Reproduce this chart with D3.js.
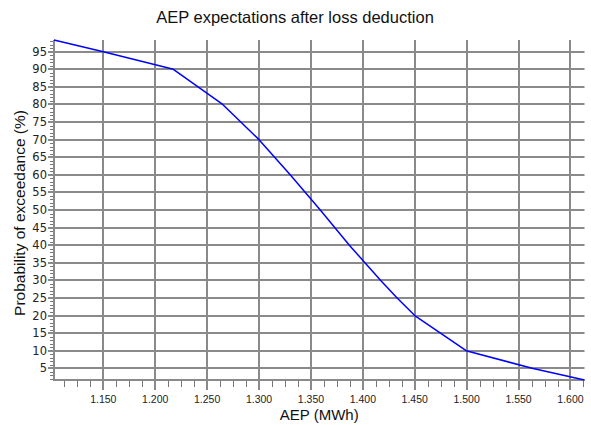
<!DOCTYPE html>
<html><head><meta charset="utf-8">
<script src="https://cdn.jsdelivr.net/npm/d3@7"></script>
<style>body{margin:0;background:#fff}svg{display:block}</style>
</head><body><svg id="c" width="591" height="425"></svg>
<script>
// Data
const aep  = [1.1025, 1.150, 1.2175, 1.265, 1.300, 1.330, 1.359, 1.387, 1.417, 1.433, 1.450, 1.4995, 1.563, 1.6135];
const prob = [98.33, 95, 90, 80, 70, 60, 50, 40, 30, 25, 20, 10, 5, 1.67];
const xTicks = [1.15, 1.2, 1.25, 1.3, 1.35, 1.4, 1.45, 1.5, 1.55, 1.6];
const xTickLabels = ["1.150","1.200","1.250","1.300","1.350","1.400","1.450","1.500","1.550","1.600"];
const yTicks = [5,10,15,20,25,30,35,40,45,50,55,60,65,70,75,80,85,90,95];
const title = "AEP expectations after loss deduction";
const xTitle = "AEP (MWh)";
const yTitle = "Probability of exceedance (%)";

const svg = d3.select("#c");
const L = 54, R = 584.5, T = 40, B = 380;
const x = d3.scaleLinear().domain([d3.min(aep), d3.max(aep)]).range([L, R]);
const y = d3.scaleLinear().domain([d3.min(prob), d3.max(prob)]).range([B, T]);
const gridCol = "#8a8a8a";

// minor ticks
const xMinor = d3.range(1.1125, 1.6135, 0.0125).filter(v => !xTicks.some(t => Math.abs(t - v) < 1e-6));
svg.append("g").selectAll("line").data(xMinor).join("line")
  .attr("x1", d => Math.round(x(d)) + 0.5).attr("x2", d => Math.round(x(d)) + 0.5)
  .attr("y1", B).attr("y2", B + 7).attr("stroke", "#777").attr("stroke-width", 1);
const yMinor = d3.range(2, 99, 1).filter(v => v % 5 !== 0);
svg.append("g").selectAll("line").data(yMinor).join("line")
  .attr("x1", L - 4).attr("x2", L)
  .attr("y1", d => Math.round(y(d)) + 0.5).attr("y2", d => Math.round(y(d)) + 0.5)
  .attr("stroke", "#777").attr("stroke-width", 1);

// grid
svg.append("g").selectAll("line").data(xTicks).join("line")
  .attr("x1", d => Math.round(x(d))).attr("x2", d => Math.round(x(d)))
  .attr("y1", T).attr("y2", B + 10).attr("stroke", gridCol).attr("stroke-width", 2);
svg.append("g").selectAll("line").data(yTicks).join("line")
  .attr("x1", L - 6).attr("x2", R)
  .attr("y1", d => Math.round(y(d))).attr("y2", d => Math.round(y(d)))
  .attr("stroke", gridCol).attr("stroke-width", 2);

// axes lines
svg.append("line").attr("x1", L).attr("x2", L).attr("y1", T).attr("y2", B + 1)
  .attr("stroke", gridCol).attr("stroke-width", 2);
svg.append("line").attr("x1", L - 1).attr("x2", R).attr("y1", B).attr("y2", B)
  .attr("stroke", gridCol).attr("stroke-width", 2);

// tick labels
svg.append("g").selectAll("text").data(xTicks).join("text")
  .attr("x", d => x(d)).attr("y", 402.5).attr("text-anchor", "middle")
  .attr("font-family", "Liberation Sans, Arial, sans-serif").attr("font-size", 10.5)
  .attr("fill", "#222").text((d, i) => xTickLabels[i]);
svg.append("g").selectAll("text").data(yTicks).join("text")
  .attr("x", 47).attr("y", d => y(d) + 4).attr("text-anchor", "end")
  .attr("font-family", "DejaVu Sans, sans-serif").attr("font-size", 11.5)
  .attr("fill", "#222").text(d => d);

// line
const line = d3.line().x((d, i) => x(aep[i])).y(d => y(d));
svg.append("path").datum(prob).attr("d", line).attr("fill", "none")
  .attr("stroke", "#0000ff").attr("stroke-width", 1.5).attr("stroke-linejoin", "round");

// titles
svg.append("text").attr("x", 295).attr("y", 23).attr("text-anchor", "middle")
  .attr("font-family", "Liberation Sans, Arial, sans-serif").attr("font-size", 16.5)
  .attr("fill", "#111").text(title);
svg.append("text").attr("x", (L + R) / 2).attr("y", 420).attr("text-anchor", "middle")
  .attr("font-family", "Liberation Sans, Arial, sans-serif").attr("font-size", 15)
  .attr("fill", "#111").text(xTitle);
svg.append("text").attr("transform", `translate(25,213) rotate(-90)`).attr("text-anchor", "middle")
  .attr("font-family", "Liberation Sans, Arial, sans-serif").attr("font-size", 15.5)
  .attr("fill", "#111").text(yTitle);
</script></body></html>
